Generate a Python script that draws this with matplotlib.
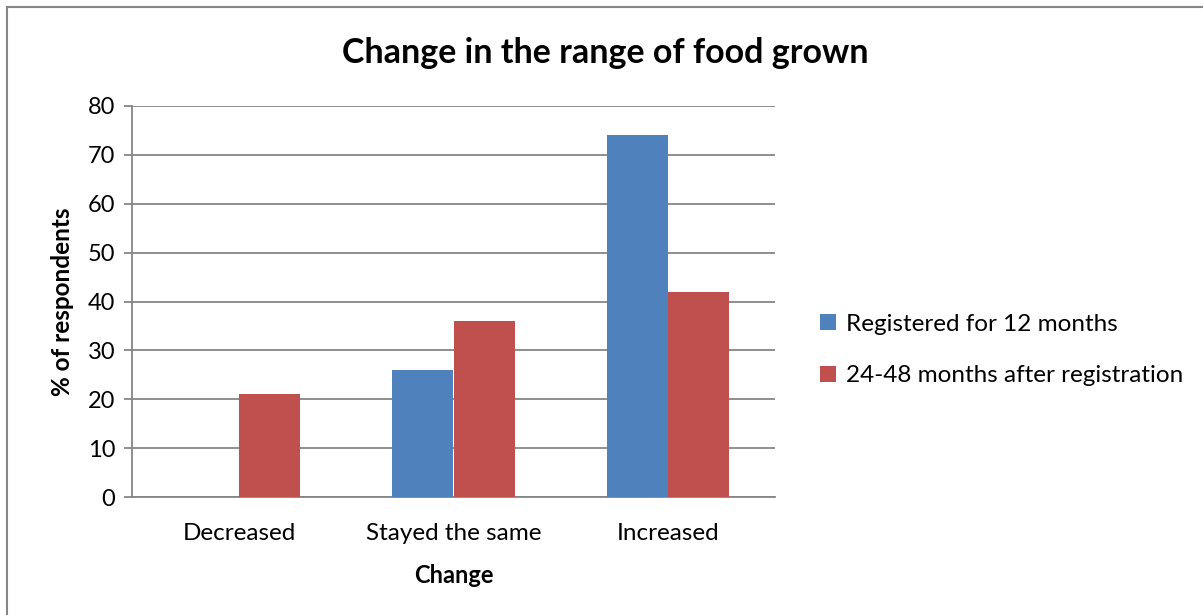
import numpy as np
import matplotlib.pyplot as plt
from matplotlib.lines import Line2D

# Data
categories = ["Decreased", "Stayed the same", "Increased"]
registered_12m = [0, 26, 74]
after_24_48m = [21, 36, 42]
series_names = ["Registered for 12 months", "24-48 months after registration"]

plt.rcParams['font.family'] = ['Lato', 'DejaVu Sans']

fig = plt.figure(figsize=(12.03, 6.15), dpi=100)
ax = fig.add_axes([132 / 1203, 1 - 497 / 615, 643 / 1203, 391 / 615])

x = np.arange(len(categories))
w = 0.285
ax.bar(x - w / 2, registered_12m, w, color="#4F81BD", label=series_names[0], zorder=3)
ax.bar(x + w / 2, after_24_48m, w, color="#C0504D", label=series_names[1], zorder=3)

ax.set_xlim(-0.5, 2.5)
ax.set_ylim(0, 80)
ax.set_yticks(range(0, 81, 10))
ax.set_xticks(x)
ax.set_xticklabels(categories)
ax.yaxis.grid(True, color="#868686", linewidth=1.3, zorder=0)
ax.tick_params(axis="y", length=6, color="#868686", width=1.3, labelsize=17, pad=6)
ax.tick_params(axis="x", length=0, labelsize=17.5, pad=19)

for side in ["top", "right"]:
    ax.spines[side].set_visible(False)
ax.spines["left"].set_color("#868686")
ax.spines["bottom"].set_color("#868686")
ax.spines["left"].set_linewidth(1.3)
ax.spines["bottom"].set_linewidth(1.3)

ax.set_xlabel("Change", fontsize=17, fontweight="bold", labelpad=14)
ax.set_ylabel("% of respondents", fontsize=17.5, fontweight="bold", labelpad=10)

fig.text(0.503, 1 - 53 / 615, "Change in the range of food grown",
         ha="center", va="center", fontsize=24.5, fontweight="bold")

ax.legend(loc="center left", bbox_to_anchor=(1.055, 0.376), frameon=False,
          fontsize=17.5, handlelength=0.65, handleheight=0.65, handletextpad=0.4,
          labelspacing=1.25, borderaxespad=0)

# chart border (only left and top visible in the crop)
fig.add_artist(Line2D([7 / 1203, 7 / 1203], [0, 1 - 7 / 615], color="#868686", linewidth=1.5))
fig.add_artist(Line2D([7 / 1203, 1], [1 - 7 / 615, 1 - 7 / 615], color="#868686", linewidth=1.5))

fig.savefig("out.png", dpi=100)
